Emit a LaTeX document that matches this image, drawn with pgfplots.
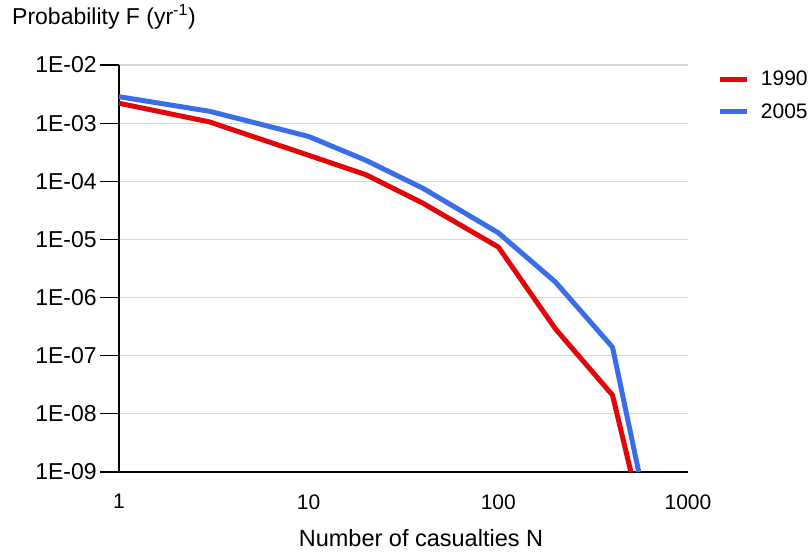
\documentclass[border=0pt]{standalone}
\usepackage{fontspec}
\setmainfont{Liberation Sans}
\usepackage{pgfplots}
\pgfplotsset{compat=1.18}
\definecolor{cred}{RGB}{226,6,10}
\definecolor{cblue}{RGB}{58,110,232}
\definecolor{cgrid}{RGB}{215,215,215}
\begin{document}
\begin{tikzpicture}[font=\fontsize{21bp}{25bp}\selectfont]
\useasboundingbox (-119bp,-82bp) rectangle (692bp,472bp);
\begin{axis}[
  scale only axis,
  width=569bp, height=407bp,
  xmode=log, ymode=log,
  xmin=1, xmax=1000, ymin=1e-9, ymax=1e-2,
  axis x line*=bottom, axis y line*=left,
  axis line style={black, line width=1.4bp},
  xtick={1,10,100,1000},
  xticklabels={1,10,100,1000},
  ytick={1e-9,1e-8,1e-7,1e-6,1e-5,1e-4,1e-3,1e-2},
  yticklabels={1E-09,1E-08,1E-07,1E-06,1E-05,1E-04,1E-03,1E-02},
  xminorticks=false, yminorticks=false,
  tick align=outside,
  major tick length=19bp,
  xtick style={draw=none},
  ytick style={black, line width=1.2bp},
  xticklabel style={font=\fontsize{21bp}{25bp}\selectfont},
  yticklabel style={font=\fontsize{23bp}{27bp}\selectfont},
  ymajorgrids,
  grid style={cgrid, line width=1.2bp},
  /pgf/number format/assume math mode=true,
  legend style={draw=none, fill=none, at={(1.047,0.995)}, anchor=north west,
    row sep=12bp, font=\fontsize{21bp}{25bp}\selectfont},
  legend cell align=left,
  legend image code/.code={\draw[#1, line width=5bp] (0bp,0bp) -- (27bp,0bp); \path (36bp,0bp);},
]
\addplot[cred, line width=5bp, line join=round] coordinates {
  (1,2.2e-3) (3,1.05e-3) (10,2.8e-4) (20,1.3e-4) (40,4.2e-5)
  (100,7.4e-6) (200,2.9e-7) (400,2.1e-8) (500,1e-9)
};
\addlegendentry{1990}
\addplot[cblue, line width=5bp, line join=round] coordinates {
  (1,2.85e-3) (3,1.6e-3) (10,5.9e-4) (20,2.3e-4) (40,7.6e-5)
  (100,1.3e-5) (200,1.85e-6) (400,1.4e-7) (550,1e-9)
};
\addlegendentry{2005}
\end{axis}
\node[anchor=base west, inner sep=0pt, font=\fontsize{23bp}{27bp}\selectfont] at (-107bp,447bp) {Probability F (yr\textsuperscript{-1})};
\node[anchor=base, inner sep=0pt, font=\fontsize{23.5bp}{27bp}\selectfont] at (302bp,-74bp) {Number of casualties N};
\end{tikzpicture}
\end{document}
